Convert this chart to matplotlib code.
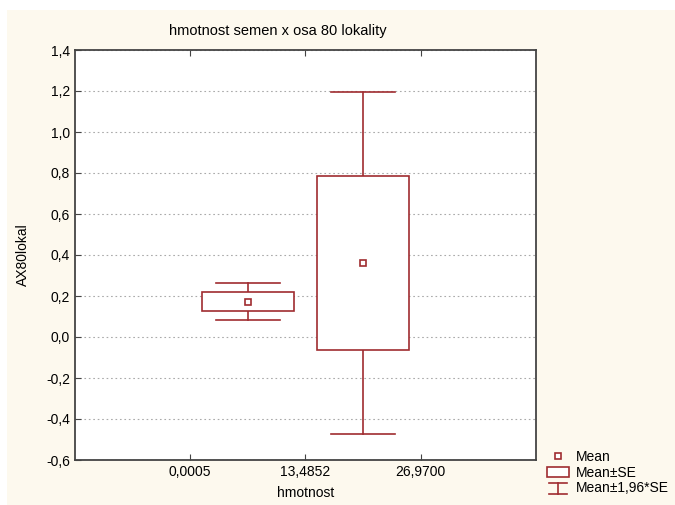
import matplotlib
matplotlib.use("Agg")
import matplotlib.pyplot as plt
from matplotlib.patches import Rectangle
from matplotlib.lines import Line2D
from matplotlib.legend_handler import HandlerBase
from matplotlib.ticker import FuncFormatter

# data
x_edges = [0.0005, 13.4852, 26.9700]
means = [0.173, 0.361]
se = [0.046, 0.426]
x_ticklabels = ['0,0005', '13,4852', '26,9700']
y_ticks = [-0.6, -0.4, -0.2, 0.0, 0.2, 0.4, 0.6, 0.8, 1.0, 1.2, 1.4]

red = '#a02c30'
cream = '#fdf9ee'

plt.rcParams['font.family'] = ['Liberation Sans', 'DejaVu Sans']
plt.rcParams['font.size'] = 9.5


class WhiskerHandler(HandlerBase):
    """legend glyph: cap, stem, cap"""
    def create_artists(self, legend, orig, xd, yd, w, h, fontsize, trans):
        cx = xd + w / 2
        top, bot = yd + h, yd - 1
        arts = [
            Line2D([xd + w * 0.1, xd + w * 0.9], [top, top]),
            Line2D([cx, cx], [bot, top]),
            Line2D([xd + w * 0.1, xd + w * 0.9], [bot, bot]),
        ]
        for a in arts:
            a.set_color(red)
            a.set_linewidth(1.2)
            a.set_transform(trans)
        return arts


fig = plt.figure(figsize=(6.75, 5.05), dpi=100, facecolor='white')
fig.patches.append(Rectangle((7 / 675, 0), 1, 1 - 10 / 505, transform=fig.transFigure,
                             facecolor=cream, edgecolor='none', zorder=-10))

ax = fig.add_axes([75 / 675, 45 / 505, 461 / 675, 410 / 505])
ax.set_facecolor('white')

step = x_edges[1] - x_edges[0]
centers = [(x_edges[i] + x_edges[i + 1]) / 2 for i in range(len(x_edges) - 1)]
box_w = 0.8 * step
cap_w = 0.56 * step

for c, m, s in zip(centers, means, se):
    lo, hi = m - 1.96 * s, m + 1.96 * s
    ax.plot([c, c], [m + s, hi], color=red, lw=1.2, zorder=3)
    ax.plot([c, c], [lo, m - s], color=red, lw=1.2, zorder=3)
    ax.plot([c - cap_w / 2, c + cap_w / 2], [hi, hi], color=red, lw=1.2, zorder=3)
    ax.plot([c - cap_w / 2, c + cap_w / 2], [lo, lo], color=red, lw=1.2, zorder=3)
    ax.add_patch(Rectangle((c - box_w / 2, m - s), box_w, 2 * s, facecolor='white',
                           edgecolor=red, lw=1.2, zorder=3))
    ax.plot(c, m, marker='s', ms=5, mfc='white', mec=red, mew=1.2, zorder=4)

ax.set_xlim(x_edges[0] - step, x_edges[-1] + step)
ax.set_ylim(y_ticks[0], y_ticks[-1])
ax.set_xticks(x_edges)
ax.set_xticklabels(x_ticklabels)
ax.set_yticks(y_ticks)
ax.yaxis.set_major_formatter(FuncFormatter(lambda v, p: f'{v:.1f}'.replace('.', ',')))
ax.tick_params(direction='in', length=4, color='#444444', top=True, right=False, labelsize=10)
ax.yaxis.grid(True, linestyle=(0, (1.5, 2.5)), color='#aaaaaa', lw=0.8, zorder=0)
ax.set_axisbelow(True)
for sp in ax.spines.values():
    sp.set_color('#444444')
    sp.set_linewidth(1.3)

ax.set_xlabel('hmotnost', labelpad=5, fontsize=10)
ax.set_ylabel('AX80lokal', labelpad=12, fontsize=10)
fig.text(278 / 675, 1 - 31 / 505, 'hmotnost semen x osa 80 lokality', ha='center', va='center',
         fontsize=10.5)

handles = [
    Line2D([], [], marker='s', ms=5, mfc='white', mec=red, mew=1.2, ls='none'),
    Rectangle((0, 0), 1, 1, facecolor='white', edgecolor=red, lw=1.2),
    Line2D([], []),
]
fig.legend(handles, ['Mean', 'Mean±SE', 'Mean±1,96*SE'],
           handler_map={handles[2]: WhiskerHandler()},
           loc='upper left', bbox_to_anchor=(547 / 675, 1 - 450 / 505),
           frameon=False, handlelength=1.6, handleheight=0.7, handletextpad=0.45,
           labelspacing=0.12, borderpad=0, borderaxespad=0, fontsize=10)

fig.savefig('out.png', dpi=100, facecolor=fig.get_facecolor())
